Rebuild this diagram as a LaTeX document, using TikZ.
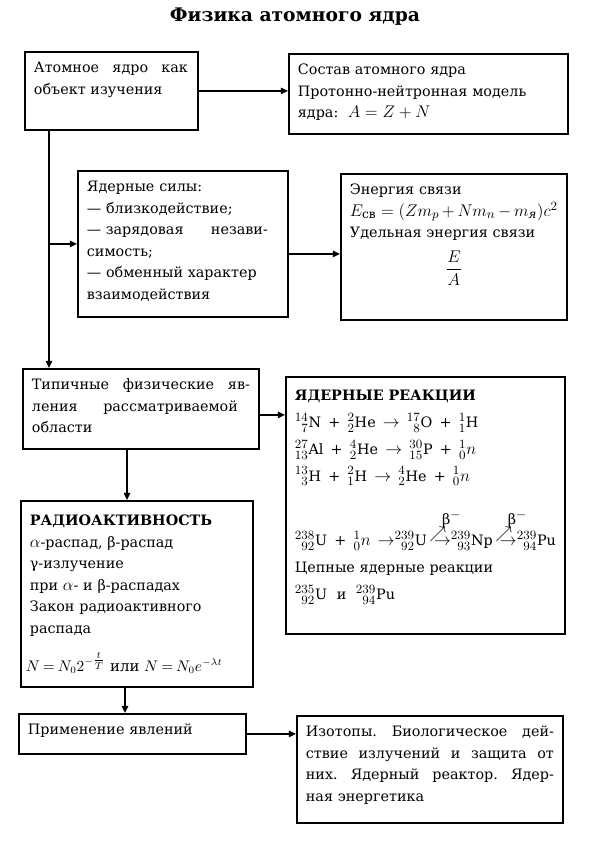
\documentclass[tikz,border=0pt]{standalone}
\usepackage{amsmath}
\usepackage{fontspec}
\setmainfont{DejaVu Serif}
\usetikzlibrary{arrows.meta}
\DeclareMathSizes{10.2}{11.6}{8.6}{6.5}
\frenchspacing

\newdimen\pxu \pxu=0.025cm
\newlength\isow
\newcommand\iso[3]{\settowidth\isow{$\scriptstyle#1$}${}^{#1}_{\makebox[\isow][r]{$\scriptstyle#2$}}$#3}
\newcommand\spread[2]{\makebox[#1][s]{\spaceskip=\fontdimen2\font plus 1fil\relax#2}}
\newcommand\betato{\mathrel{\rlap{\raisebox{5pt}{$\nearrow$}}\rlap{\hspace{9pt}\raisebox{15pt}{β$^{-}$}}\rightarrow}}
\newcommand\plus{\enspace+\enspace}
\newcommand\gives{\enspace$\to$\enspace}

\begin{document}
\begin{tikzpicture}[x=0.025cm, y=-0.025cm,
    box/.style={draw, line width=1.3pt, anchor=north west, inner xsep=9\pxu, inner ysep=0pt,
                text height=21\pxu, align=left, font=\fontsize{10.2}{15.3}\selectfont},
    arr/.style={line width=1pt, -{Triangle[length=5pt,width=4.5pt]}}]
  \useasboundingbox (0,0) rectangle (600,858);

  \node[anchor=base, font=\fontsize{13.3}{16}\selectfont\bfseries] (title) at (295,21) {Физика атомного ядра};

  \node[box, text width=155\pxu, text depth=57\pxu] (b1) at (24,51)
    {\spread{154\pxu}{Атомное ядро как}\\объект изучения};
  \node[box, text width=261\pxu, text depth=59\pxu] (b2) at (288,53)
    {Состав атомного ядра\\Протонно-нейтронная модель\\ядра:\ \ $A = Z + N$};
  \node[box, text width=192\pxu, text depth=125\pxu] (b3) at (77,170)
    {Ядерные силы:\\— близкодействие;\\\spread{181\pxu}{—\hspace{0.32em}зарядовая незави-}\\симость;\\— обменный характер\\взаимодействия};
  \node[box, text width=208\pxu, text depth=125\pxu] (b4) at (340,173)
    {Энергия связи\\$E_{\text{св}} = (Zm_p + Nm_n - m_{\text{\itshape я}})c^2$\\Удельная энергия связи\\[6pt]\makebox[208\pxu]{$\dfrac{E}{A}$}};
  \node[box, text width=218\pxu, text depth=59\pxu] (b5) at (22,368)
    {\spread{218\pxu}{Типичные физические яв-}\\\spread{206\pxu}{ления рассматриваемой}\\области};
  \node[box, text width=261\pxu, text height=24\pxu, text depth=233\pxu, font=\fontsize{10.2}{19}\selectfont] (b6) at (285,376)
    {\textbf{ЯДЕРНЫЕ РЕАКЦИИ}\\
     \iso{14}{7}{N}\plus\iso{2}{2}{He}\gives\iso{17}{8}{O}\plus\iso{1}{1}{H}\\
     \iso{27}{13}{Al}\plus\iso{4}{2}{He}\gives\iso{30}{15}{P}\plus\iso{1}{0}{$n$}\\
     \iso{13}{3}{H}\plus\iso{2}{1}{H}\gives\iso{4}{2}{He}\plus\iso{1}{0}{$n$}\\[17pt]
     \iso{238}{92}{U}\plus\iso{1}{0}{$n$}\enspace$\to$\iso{239}{92}{U}\,$\betato$\iso{239}{93}{Np}\,$\betato$\iso{239}{94}{Pu}\\
     Цепные ядерные реакции\\
     \iso{235}{92}{U}\ \ и\ \ \iso{239}{94}{Pu}};
  \node[box, text width=214\pxu, text height=25\pxu, text depth=161\pxu] (b7) at (20,500)
    {\textbf{РАДИОАКТИВНОСТЬ}\\$\alpha$-распад, β-распад\\γ-излучение\\при $\alpha$- и β-распадах\\Закон радиоактивного\\распада\\[10pt]
     \hspace*{-4\pxu}{\fontsize{10.6}{15}\selectfont\thickmuskip=3.5mu$N = N_0 2^{-\tfrac{t}{T}}$ или $N = N_0e^{-\lambda t}$}};
  \node[box, text width=209\pxu, text depth=19\pxu] (b8) at (18,713) {Применение явлений};
  \node[box, text width=248\pxu, text depth=86\pxu] (b9) at (296,715)
    {\spread{248\pxu}{Изотопы. Биологическое дей-}\\\spread{248\pxu}{ствие излучений и защита от}\\\spread{248\pxu}{них. Ядерный реактор. Ядер-}\\ная энергетика};

  \coordinate (trunk) at ([xshift=25\pxu]b1.south west);
  \coordinate (k3) at ([yshift=-10\pxu]b3.east);
  \coordinate (k5) at ([yshift=-6\pxu]b5.east);
  \coordinate (d5) at ([xshift=105\pxu]b5.south west);
  \coordinate (d7) at ([xshift=105\pxu]b7.south west);

  \draw[arr] (b1.east) -- (b1.east -| b2.west);
  \draw[arr] (trunk) -- (trunk |- b5.north);
  \draw[arr] (trunk |- b3.west) -- (b3.west);
  \draw[arr] (k3) -- (k3 -| b4.west);
  \draw[arr] (k5) -- (k5 -| b6.west);
  \draw[arr] (d5) -- (d5 |- b7.north);
  \draw[arr] (d7) -- (d7 |- b8.north);
  \draw[arr] (b8.east) -- (b8.east -| b9.west);
\end{tikzpicture}
\end{document}
